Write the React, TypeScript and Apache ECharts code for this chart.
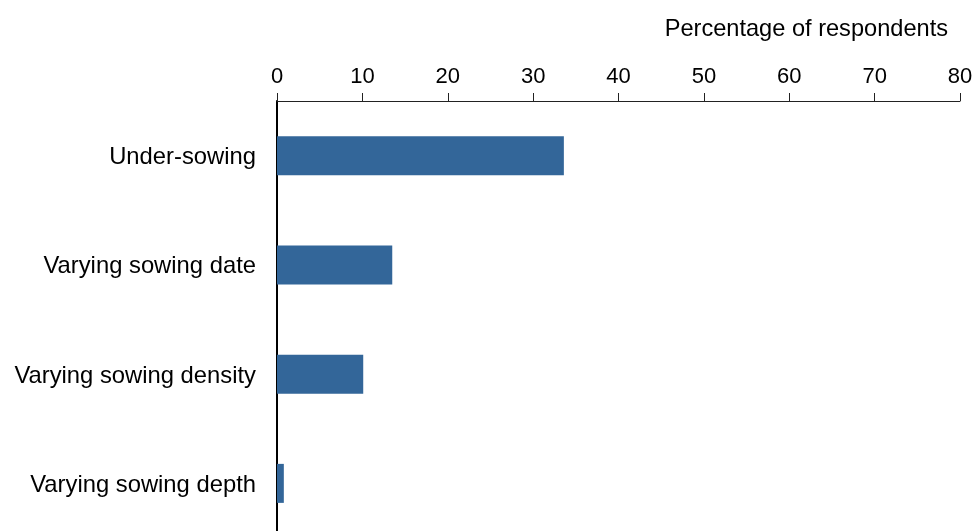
import React, { useEffect, useRef } from "react";
import * as echarts from "echarts";

const categories = [
  "Under-sowing",
  "Varying sowing date",
  "Varying sowing density",
  "Varying sowing depth",
];
const values = [33.6, 13.5, 10.1, 0.8];
const axisTitle = "Percentage of respondents";

export default function App() {
  const ref = useRef<HTMLDivElement>(null);
  useEffect(() => {
    if (!ref.current) return;
    const chart = echarts.init(ref.current, null, { renderer: "svg" });
    const font = "Liberation Sans, Arial, sans-serif";
    chart.setOption({
      animation: false,
      grid: { left: 277, top: 101, width: 683, height: 437 },
      graphic: [
        {
          type: "text",
          x: 948,
          y: 28,
          style: {
            text: axisTitle,
            fontSize: 23.6,
            fontFamily: font,
            fill: "#000",
            textAlign: "right",
            textVerticalAlign: "middle",
          },
        },
      ],
      xAxis: {
        type: "value",
        position: "top",
        min: 0,
        max: 80,
        interval: 10,
        splitLine: { show: false },
        axisLine: { show: true, lineStyle: { color: "#222", width: 1 } },
        axisTick: { show: true, length: 8, inside: false, lineStyle: { color: "#222", width: 1 } },
        axisLabel: { fontSize: 22, fontFamily: font, color: "#000", margin: 15 },
      },
      yAxis: {
        type: "category",
        data: categories,
        inverse: true,
        axisLine: { show: true, lineStyle: { color: "#000", width: 2 } },
        axisTick: { show: false },
        axisLabel: { fontSize: 23.8, fontFamily: font, color: "#000", margin: 21 },
      },
      series: [
        {
          type: "bar",
          data: values,
          barWidth: 39,
          itemStyle: { color: "#336699" },
        },
      ],
    });
    return () => chart.dispose();
  }, []);
  return <div ref={ref} style={{ width: 976, height: 545, position: "fixed", left: 0, top: 0 }} />;
}
